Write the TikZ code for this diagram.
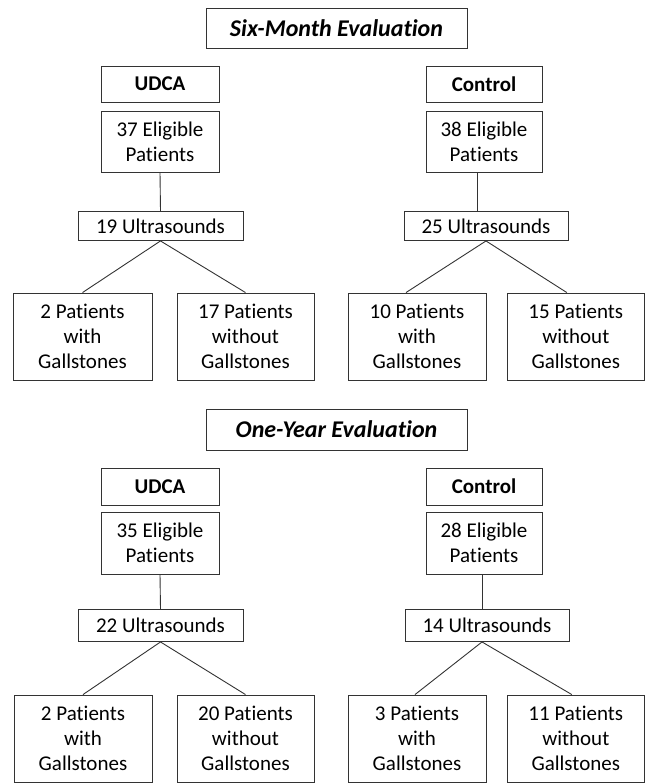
\documentclass[tikz,border=0pt]{standalone}
\usepackage{fontspec}
\setmainfont{Carlito}[Ligatures={NoCommon}]
\usetikzlibrary{calc}
\tikzset{
  box/.style={draw=black!80, line width=0.9pt, inner sep=0pt, align=center,
    font=\fontsize{21}{25}\selectfont, anchor=center},
  titlebox/.style={box, font=\fontsize{24}{25}\selectfont\bfseries\itshape},
  headbox/.style={box, font=\fontsize{21}{25}\selectfont\bfseries},
  link/.style={draw=black!80, line width=0.9pt}
}
\begin{document}
\begin{tikzpicture}[x=1pt,y=-1pt]
\useasboundingbox (0,0) rectangle (645,783);
% ---------- Six-month ----------
\node[titlebox, minimum width=261pt, minimum height=40pt] (t1) at (336.5,28) {Six-Month Evaluation};
\node[headbox, minimum width=118pt, minimum height=36pt] (u1) at (160,84) {UDCA};
\node[box, minimum width=118pt, minimum height=61pt] (e1) at (160,141.5) {37 Eligible\\Patients};
\node[box, minimum width=165pt, minimum height=29pt] (us1) at (160.5,226) {19 Ultrasounds};
\node[box, minimum width=139pt, minimum height=87pt] (a1) at (82.5,336.5) {2 Patients\\with\\Gallstones};
\node[box, minimum width=137pt, minimum height=87pt] (b1) at (245.5,336.5) {17 Patients\\without\\Gallstones};
\node[headbox, minimum width=116pt, minimum height=36pt] (c1) at (484,84) {Control};
\node[box, minimum width=116pt, minimum height=61pt] (ce1) at (484,141.5) {38 Eligible\\Patients};
\node[box, minimum width=164pt, minimum height=29pt] (cus1) at (486,226) {25 Ultrasounds};
\node[box, minimum width=138pt, minimum height=87pt] (ca1) at (417,336.5) {10 Patients\\with\\Gallstones};
\node[box, minimum width=137pt, minimum height=87pt] (cb1) at (575.8,336.5) {15 Patients\\without\\Gallstones};
\coordinate (x1) at (477,0);
\path[link] (e1.south) -- (us1.north);
\path[link] (ce1.south -| x1) -- (cus1.north -| x1);
\path[link] (us1.south) -- (a1.north);
\path[link] (us1.south) -- (b1.north);
\path[link] (cus1.south) -- ($(ca1.north)+(-11,0)$);
\path[link] (cus1.south) -- ($(cb1.north)+(-9,0)$);
% ---------- One-year ----------
\node[titlebox, minimum width=261pt, minimum height=41pt] (t2) at (336.5,429.5) {One-Year Evaluation};
\node[headbox, minimum width=118pt, minimum height=37pt] (u2) at (160,486.5) {UDCA};
\node[box, minimum width=118pt, minimum height=62pt] (e2) at (160,543) {35 Eligible\\Patients};
\node[box, minimum width=165pt, minimum height=32pt] (us2) at (160.5,625.5) {22 Ultrasounds};
\node[box, minimum width=138pt, minimum height=87pt] (a2) at (83,738.5) {2 Patients\\with\\Gallstones};
\node[box, minimum width=137pt, minimum height=87pt] (b2) at (245.5,738.5) {20 Patients\\without\\Gallstones};
\node[headbox, minimum width=116pt, minimum height=37pt] (c2) at (484,486.5) {Control};
\node[box, minimum width=116pt, minimum height=62pt] (ce2) at (484,543) {28 Eligible\\Patients};
\node[box, minimum width=164pt, minimum height=32pt] (cus2) at (487,625.5) {14 Ultrasounds};
\node[box, minimum width=138pt, minimum height=87pt] (ca2) at (417,738.5) {3 Patients\\with\\Gallstones};
\node[box, minimum width=137pt, minimum height=87pt] (cb2) at (575.8,738.5) {11 Patients\\without\\Gallstones};
\coordinate (x2) at (482,0);
\path[link] (e2.south) -- (us2.north);
\path[link] (ce2.south -| x2) -- (cus2.north -| x2);
\path[link] (us2.south) -- (a2.north);
\path[link] (us2.south) -- (b2.north);
\path[link] (cus2.south -| x2) -- ($(ca2.north)+(-2,0)$);
\path[link] (cus2.south -| x2) -- ($(cb2.north)+(-4,0)$);
\end{tikzpicture}
\end{document}
